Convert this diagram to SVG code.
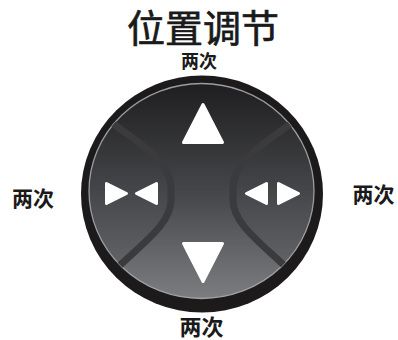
<svg xmlns="http://www.w3.org/2000/svg" width="398" height="340" viewBox="0 0 398 340">
<style>
.t{font-family:"Noto Sans CJK SC","Noto Sans CJK JP",sans-serif;fill:#1a1a1a;text-anchor:middle}
.b{font-weight:bold}
.h{stroke:#1a1a1a;stroke-width:0.7}
.tri{fill:#fff;stroke:#fff;stroke-width:3;stroke-linejoin:round}
.div{fill:none;stroke:#3b3b3e;stroke-width:7}
</style>
<defs>
<linearGradient id="g" x1="0" y1="83" x2="0" y2="299" gradientUnits="userSpaceOnUse">
<stop offset="0" stop-color="#1e1e20"/>
<stop offset="0.5" stop-color="#454649"/>
<stop offset="1" stop-color="#6f7073"/>
</linearGradient>
<linearGradient id="gb" x1="0" y1="200" x2="0" y2="299" gradientUnits="userSpaceOnUse">
<stop offset="0" stop-color="#fff" stop-opacity="0"/>
<stop offset="1" stop-color="#fff" stop-opacity="0.09"/>
</linearGradient>
<clipPath id="c"><ellipse cx="201.5" cy="191" rx="112.5" ry="107.5"/></clipPath>
</defs>
<text class="t h" x="203" y="42" font-size="38">位置调节</text>
<g id="pad">
<ellipse cx="202" cy="194" rx="121" ry="118.5" fill="#1c1a1b"/>
<ellipse cx="201.5" cy="191" rx="112.5" ry="107.5" fill="url(#g)" stroke="#9c9c9e" stroke-width="1.3"/>
<g clip-path="url(#c)">
<path d="M115,270 C140,245 171,225 171,200 L233,200 C233,225 264,245 289,270 L320,320 L80,320 Z" fill="url(#gb)"/>
</g>
</g>
<g id="connectors" clip-path="url(#c)">
<path class="div" d="M106,118 C130,138 171,158 171,188 L171,200 C171,225 140,245 113,272"/>
<path class="div" d="M298,118 C274,138 233,158 233,188 L233,200 C233,225 264,245 291,272"/>
</g>
<g id="up"><path class="tri" d="M203,104.5 L222.5,142.5 L183.5,142.5 Z"/></g>
<g id="down"><path class="tri" d="M183.5,243.5 L222.5,243.5 L203,281.5 Z"/></g>
<g id="left">
<path class="tri" d="M106.5,183.5 L106.5,203.5 L126.5,193.5 Z"/>
<path class="tri" d="M156.5,183.5 L156.5,203.5 L136.5,193.5 Z"/>
</g>
<g id="right">
<path class="tri" d="M266.5,183.5 L266.5,203.5 L246.5,193.5 Z"/>
<path class="tri" d="M278.5,183.5 L278.5,203.5 L298.5,193.5 Z"/>
</g>
<text class="t b" x="199" y="68" font-size="18">两次</text>
<text class="t b" x="33" y="206" font-size="21">两次</text>
<text class="t b" x="373.5" y="202" font-size="21">两次</text>
<text class="t b" x="201.5" y="335" font-size="22">两次</text>
</svg>
